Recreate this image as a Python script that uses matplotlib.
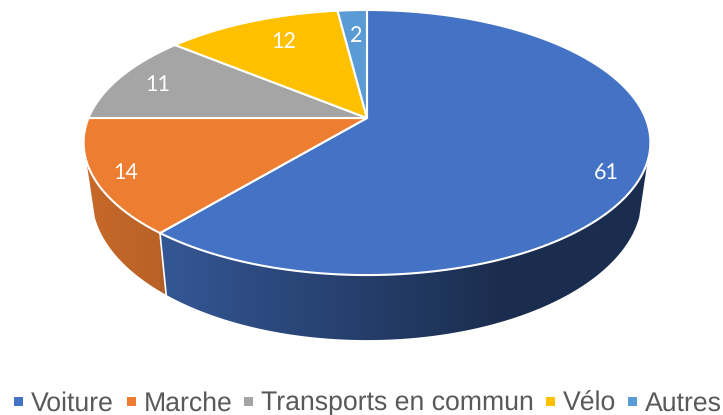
import numpy as np
import matplotlib
matplotlib.use("Agg")  # headless-safe
import matplotlib.pyplot as plt
from matplotlib.colors import to_rgb
from matplotlib.patches import Polygon

plt.rcParams["text.hinting"] = "none"

categories = ["Voiture", "Marche", "Transports en commun", "Vélo", "Autres"]
values = [61, 14, 11, 12, 2]
colors = ["#4472C4", "#ED7D31", "#A5A5A5", "#FFC000", "#5B9BD5"]

# where things sit, in reference pixels
label_xy = [(606, 172.5), (126, 172.5), (158, 85), (284, 41.5), (356, 36)]
legend_marker_x = [14, 127, 244, 546, 628]
legend_text_x = [31, 144, 261, 563, 645]

# perspective model of the tilted disc
CX, CY = 367, 118
RX, RY = 278.5, 128
K = 0.185
DEPTH = 53
BOTTOM_SCALE = 0.97
WALL_FROM, WALL_TO = 108.5, 251.5


def rim(deg, bottom=False):
    """deg is clockwise from 12 o'clock."""
    a = np.radians(deg)
    x, y = np.sin(a), np.cos(a)
    w = 1 + K * y
    if bottom:
        return CX + BOTTOM_SCALE * RX * x / w, CY + (-RY * y + DEPTH) / w
    return CX + RX * x / w, CY - RY * y / w


def wall_shade(px):
    return np.interp(px, [85, 160, 160.01, 500, 660], [0.84, 0.78, 0.76, 0.40, 0.40])


fig = plt.figure(figsize=(7.23, 4.15), dpi=100)
ax = fig.add_axes([0, 0, 1, 1])

edges = np.cumsum([0] + values) / sum(values) * 360

# side wall, gradient image clipped to each visible piece
px = np.arange(60, 680) + 0.5
for i, c in enumerate(colors):
    lo, hi = max(edges[i], WALL_FROM), min(edges[i + 1], WALL_TO)
    if lo >= hi:
        continue
    t = np.linspace(lo, hi, 200)
    xt, yt = rim(t)
    xb, yb = rim(t, bottom=True)
    poly = Polygon(np.c_[np.r_[xt, xb[::-1]], np.r_[yt, yb[::-1]]], transform=ax.transData,
                   facecolor="none", edgecolor="none")
    ax.add_patch(poly)
    grad = np.outer(wall_shade(px), to_rgb(c))[None, :, :]
    im = ax.imshow(grad, extent=(60, 680, 350, 100), aspect="auto",
                   interpolation="bilinear", zorder=1)
    im.set_clip_path(poly)

# white seam between the two visible wall pieces
for e in edges[1:-1]:
    if WALL_FROM < e < WALL_TO:
        x0, y0 = rim(e)
        x1, y1 = rim(e, bottom=True)
        ax.plot([x0, x1], [y0, y1], color="white", lw=1.2, zorder=2)

# top face
for i, c in enumerate(colors):
    t = np.linspace(edges[i], edges[i + 1], 200)
    xt, yt = rim(t)
    ax.fill(np.r_[CX, xt], np.r_[CY, yt], facecolor=c, edgecolor="white",
            lw=1.5, joinstyle="miter", zorder=3)

for (x, y), v in zip(label_xy, values):
    ax.text(x, y, str(v), color="white", fontsize=15.5, family="Lato",
            ha="center", va="center", zorder=4)

# legend
for i, name in enumerate(categories):
    ax.fill([legend_marker_x[i], legend_marker_x[i] + 8.5, legend_marker_x[i] + 8.5, legend_marker_x[i]],
            [397, 397, 405.5, 405.5], color=colors[i], lw=0)
    ax.text(legend_text_x[i], 410.3, name, color="#595959", fontsize=19.2,
            family="Liberation Sans", ha="left", va="baseline")

ax.set_xlim(0, 723)
ax.set_ylim(415, 0)
ax.axis("off")

fig.savefig("out.png", dpi=100)
plt.close(fig)
